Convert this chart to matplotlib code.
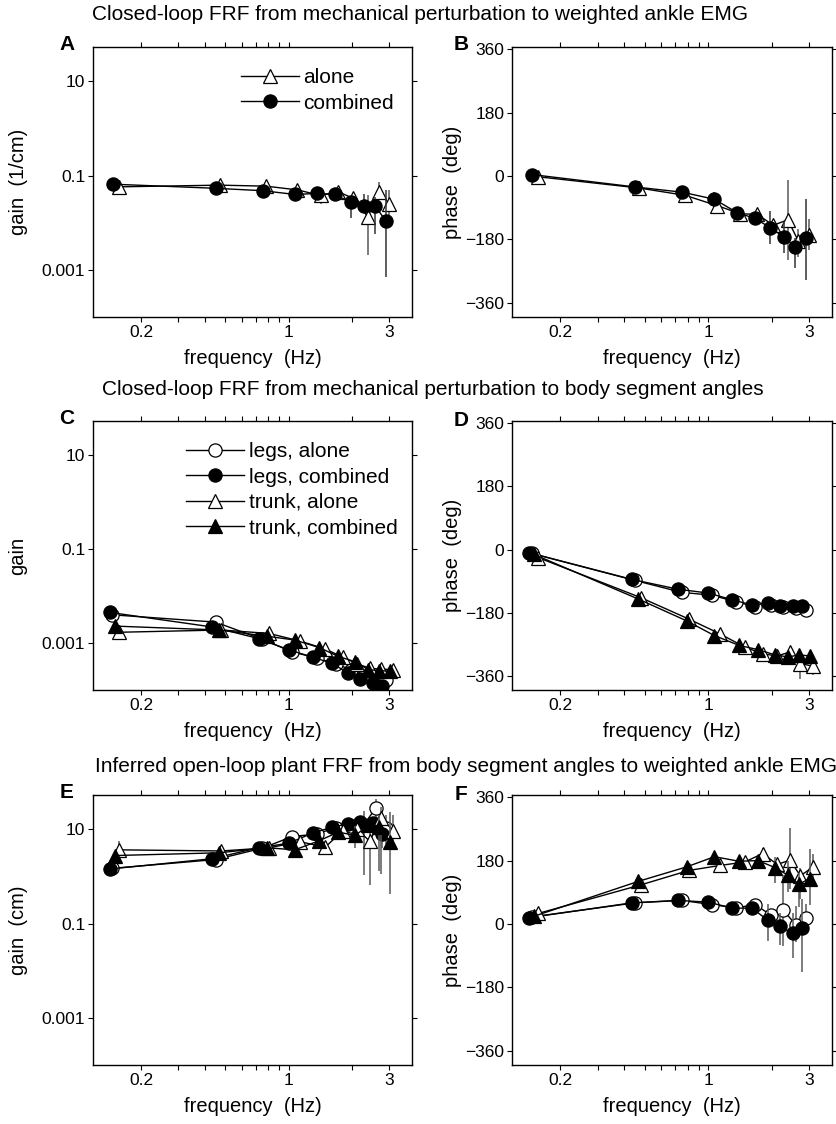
import numpy as np
import matplotlib
matplotlib.use('Agg')
import matplotlib.pyplot as plt
from matplotlib.ticker import FixedLocator, FixedFormatter, NullFormatter, NullLocator

plt.rcParams['font.family'] = ['Liberation Sans', 'DejaVu Sans']
nan = np.nan

# ---- row 1: perturbation -> EMG (A, B) ----
f_comb1 = [0.147, 0.45, 0.755, 1.07, 1.37, 1.66, 1.97, 2.28, 2.57, 2.89]
f_alone1 = [0.156, 0.47, 0.78, 1.10, 1.42, 1.71, 2.03, 2.38, 2.67, 3.01]

gainA_comb = [0.066, 0.054, 0.048, 0.040, 0.042, 0.040, 0.027, 0.023, 0.023, 0.011]
gainA_alone = [0.058, 0.063, 0.060, 0.050, 0.038, 0.046, 0.033, 0.0134, 0.046, 0.025]
gainA_comb_lo = [nan, nan, nan, nan, 0.033, 0.032, 0.0128, 0.0171, 0.0059, 0.00071]
gainA_comb_hi = [nan, nan, nan, nan, 0.050, 0.050, 0.0357, 0.040, 0.0357, 0.0497]
gainA_alone_lo = [nan, nan, nan, nan, 0.025, nan, nan, 0.0021, 0.030, 0.014]
gainA_alone_hi = [nan, nan, nan, nan, 0.050, nan, nan, 0.039, 0.075, 0.050]

phaseB_comb = [4, -31, -46, -66, -104, -120, -147, -173, -200, -176]
phaseB_alone = [-2, -34, -55, -84, -107, -109, -140, -124, -185, -166]
phaseB_comb_lo = [nan, nan, nan, -85, nan, nan, -194, -218, -262, -294]
phaseB_comb_hi = [nan, nan, nan, -45, nan, nan, -99, -128, -175, -66]
phaseB_alone_lo = [nan, nan, nan, -100, nan, nan, nan, -237, -230, -209]
phaseB_alone_hi = [nan, nan, nan, -70, nan, nan, nan, -11, -150, -123]

# ---- rows 2 and 3: legs / trunk ----
f_lc = [0.142, 0.435, 0.72, 1.0, 1.30, 1.61, 1.91, 2.18, 2.51, 2.77]
f_la = [0.146, 0.45, 0.75, 1.04, 1.36, 1.67, 1.98, 2.27, 2.60, 2.90]
f_tc = [0.150, 0.467, 0.79, 1.07, 1.40, 1.72, 2.07, 2.39, 2.69, 3.02]
f_ta = [0.157, 0.48, 0.81, 1.135, 1.49, 1.81, 2.12, 2.43, 2.73, 3.14]

gainC_la = [0.0040, 0.0028, 0.0012, 0.00065, 0.00048, 0.00036, 0.00027, 0.0002, 0.00017, 0.00016]
gainC_lc = [0.0045, 0.0022, 0.00125, 0.00072, 0.0005, 0.00037, 0.00023, 0.00017, 0.00014, 0.00012]
gainC_ta = [0.0017, 0.0019, 0.0016, 0.0011, 0.00075, 0.0005, 0.00036, 0.00029, 0.00028, 0.00027]
gainC_tc = [0.0023, 0.0019, 0.0014, 0.00116, 0.0008, 0.00052, 0.0004, 0.00027, 0.00026, 0.00025]

phaseD_la = [-11, -88, -122, -130, -149, -163, -158, -165, -166, -172]
phaseD_lc = [-9, -85, -113, -124, -143, -158, -153, -162, -160, -160]
phaseD_ta = [-23, -137, -198, -240, -278, -297, -303, -292, -325, -332]
phaseD_tc = [-14, -141, -203, -245, -273, -285, -300, -306, -300, -303]
phaseD_ta_lo = [nan, nan, nan, nan, nan, nan, -320, nan, -368, -358]
phaseD_ta_hi = [nan, nan, nan, nan, nan, nan, -290, nan, -300, -320]
phaseD_tc_lo = [nan, nan, nan, nan, -290, nan, nan, nan, nan, nan]
phaseD_tc_hi = [nan, nan, nan, nan, -260, nan, nan, nan, nan, nan]

gainE_la = [1.5, 2.3, 4.0, 7.1, 8.0, 11.0, 12.0, 12.5, 29, 11]
gainE_lc = [1.45, 2.4, 4.1, 5.1, 8.4, 11.2, 13.2, 14.3, 13.6, 8.1]
gainE_ta = [3.7, 3.5, 4.1, 5.5, 4.2, 9.5, 10.0, 5.6, 17.5, 9.5]
gainE_tc = [2.8, 3.2, 4.1, 3.7, 5.8, 8.8, 7.5, 12.2, 11.2, 5.4]
gainE_la_lo = [nan, nan, nan, nan, nan, nan, nan, 1.06, 15, 5]
gainE_la_hi = [nan, nan, nan, nan, nan, nan, nan, 25, 45, 20]
gainE_lc_lo = [nan, nan, nan, nan, nan, nan, nan, nan, nan, 4]
gainE_lc_hi = [nan, nan, nan, nan, nan, nan, nan, nan, nan, 15]
gainE_ta_lo = [2.5, nan, nan, nan, nan, nan, nan, 0.65, 1.15, 5]
gainE_ta_hi = [5.8, nan, nan, nan, nan, nan, nan, 12, 30, 20]
gainE_tc_lo = [nan, nan, nan, nan, nan, 6, 4, nan, 1.3, 0.43]
gainE_tc_hi = [nan, nan, nan, nan, nan, 12, 12, nan, 20, 23]

phaseF_la = [20, 60, 67, 55, 46, 55, 25, 39, -3, 18]
phaseF_lc = [18, 60, 67, 62, 45, 45, 11, -7, -26, -12]
phaseF_ta = [30, 111, 152, 166, 176, 200, 169, 181, 137, 162]
phaseF_tc = [22, 121, 162, 191, 178, 180, 160, 138, 113, 129]
phaseF_la_lo = [nan, nan, nan, nan, nan, nan, nan, -61, -50, 0]
phaseF_la_hi = [nan, nan, nan, nan, nan, nan, nan, 139, 50, 58]
phaseF_lc_lo = [nan, nan, nan, nan, nan, nan, -49, -60, -96, -137]
phaseF_lc_hi = [nan, nan, nan, nan, nan, nan, 58, 30, 30, 72]
phaseF_ta_lo = [nan, nan, nan, nan, nan, 178, nan, 100, 72, 120]
phaseF_ta_hi = [nan, nan, nan, nan, nan, 215, nan, 273, 160, 200]
phaseF_tc_lo = [nan, nan, nan, nan, nan, nan, 115, 90, 48, 53]
phaseF_tc_hi = [nan, nan, nan, nan, nan, nan, 190, 180, 146, 212]

freq_labels = ['0.2', '1', '3']
freq_ticks = [0.2, 1, 3]
freq_minor = [0.3, 0.4, 0.5, 0.6, 0.7, 0.8, 0.9, 2]
gain_ticks = [10, 0.1, 0.001]
gain_labels = ['10', '0.1', '0.001']
phase_ticks = [-360, -180, 0, 180, 360]

W, H = 837, 1124
fig = plt.figure(figsize=(W / 100, H / 100), dpi=100)


def make_ax(left, top, right, bottom):
    return fig.add_axes([left / W, 1 - bottom / H, (right - left) / W, (bottom - top) / H])


def style(ax, kind):
    ax.set_xscale('log')
    ax.set_xlim(0.118, 3.85)
    ax.xaxis.set_major_locator(FixedLocator(freq_ticks))
    ax.xaxis.set_major_formatter(FixedFormatter(freq_labels))
    ax.xaxis.set_minor_locator(FixedLocator(freq_minor))
    ax.xaxis.set_minor_formatter(NullFormatter())
    if kind == 'gain':
        ax.set_yscale('log')
        ax.set_ylim(1e-4, 54)
        ax.yaxis.set_major_locator(FixedLocator(gain_ticks))
        ax.yaxis.set_major_formatter(FixedFormatter(gain_labels))
        ax.yaxis.set_minor_locator(NullLocator())
    else:
        ax.set_ylim(-400, 366)
        ax.set_yticks(phase_ticks)
    ax.tick_params(which='both', direction='out', top=True, right=True,
                   length=3.5, width=0.8, labelsize=12.5, pad=2)
    for s in ax.spines.values():
        s.set_linewidth(1)
    ax.set_xlabel('frequency  (Hz)', fontsize=14.5)
    ax.xaxis.set_label_coords(0.5, -0.12)


def draw(ax, f, y, marker, fill, label, z, lo=None, hi=None, ecol='0.35'):
    f = np.asarray(f)
    if lo is not None:
        lo = np.asarray(lo, dtype=float)
        hi = np.asarray(hi, dtype=float)
        ok = np.isfinite(lo)
        ax.vlines(f[ok], lo[ok], hi[ok], color=ecol, lw=1.1, zorder=z)
    ax.plot(f, y, color='k', lw=1, marker=marker, ms=9.5, mfc=fill, mec='k',
            mew=0.9, label=label, zorder=z + 1)


def left_ylabel(ax, text):
    ax.set_ylabel(text, fontsize=14.5)
    ax.yaxis.set_label_coords(-0.205, 0.5)


def right_ylabel(ax, text):
    ax.set_ylabel(text, fontsize=14.5)
    ax.yaxis.set_label_coords(-0.155, 0.5)


L = (93, 412)
R = (512, 832)
rows = [(47, 317), (421, 690), (795, 1065)]
leg_kw = dict(loc='upper left', frameon=False, fontsize=15, handlelength=2.8,
              handletextpad=0.2, labelspacing=0.3)

# A
ax = make_ax(L[0], rows[0][0], L[1], rows[0][1])
style(ax, 'gain')
draw(ax, f_alone1, gainA_alone, '^', 'w', 'alone', 2, gainA_alone_lo, gainA_alone_hi)
draw(ax, f_comb1, gainA_comb, 'o', 'k', 'combined', 4, gainA_comb_lo, gainA_comb_hi, ecol='0.2')
left_ylabel(ax, 'gain  (1/cm)')
ax.legend(bbox_to_anchor=(0.405, 0.99), **leg_kw)

# B
ax = make_ax(R[0], rows[0][0], R[1], rows[0][1])
style(ax, 'phase')
draw(ax, f_alone1, phaseB_alone, '^', 'w', 'alone', 2, phaseB_alone_lo, phaseB_alone_hi)
draw(ax, f_comb1, phaseB_comb, 'o', 'k', 'combined', 4, phaseB_comb_lo, phaseB_comb_hi, ecol='0.2')
right_ylabel(ax, 'phase  (deg)')

# C
ax = make_ax(L[0], rows[1][0], L[1], rows[1][1])
style(ax, 'gain')
draw(ax, f_la, gainC_la, 'o', 'w', 'legs, alone', 2)
draw(ax, f_lc, gainC_lc, 'o', 'k', 'legs, combined', 4)
draw(ax, f_ta, gainC_ta, '^', 'w', 'trunk, alone', 6)
draw(ax, f_tc, gainC_tc, '^', 'k', 'trunk, combined', 8)
left_ylabel(ax, 'gain')
ax.legend(bbox_to_anchor=(0.233, 0.99), **leg_kw)

# D
ax = make_ax(R[0], rows[1][0], R[1], rows[1][1])
style(ax, 'phase')
draw(ax, f_la, phaseD_la, 'o', 'w', 'legs, alone', 2)
draw(ax, f_lc, phaseD_lc, 'o', 'k', 'legs, combined', 4)
draw(ax, f_ta, phaseD_ta, '^', 'w', 'trunk, alone', 6, phaseD_ta_lo, phaseD_ta_hi)
draw(ax, f_tc, phaseD_tc, '^', 'k', 'trunk, combined', 8, phaseD_tc_lo, phaseD_tc_hi)
right_ylabel(ax, 'phase  (deg)')

# E
ax = make_ax(L[0], rows[2][0], L[1], rows[2][1])
style(ax, 'gain')
draw(ax, f_la, gainE_la, 'o', 'w', 'legs, alone', 2, gainE_la_lo, gainE_la_hi)
draw(ax, f_lc, gainE_lc, 'o', 'k', 'legs, combined', 4, gainE_lc_lo, gainE_lc_hi)
draw(ax, f_ta, gainE_ta, '^', 'w', 'trunk, alone', 6, gainE_ta_lo, gainE_ta_hi)
draw(ax, f_tc, gainE_tc, '^', 'k', 'trunk, combined', 8, gainE_tc_lo, gainE_tc_hi)
left_ylabel(ax, 'gain  (cm)')

# F
ax = make_ax(R[0], rows[2][0], R[1], rows[2][1])
style(ax, 'phase')
draw(ax, f_la, phaseF_la, 'o', 'w', 'legs, alone', 2, phaseF_la_lo, phaseF_la_hi)
draw(ax, f_lc, phaseF_lc, 'o', 'k', 'legs, combined', 4, phaseF_lc_lo, phaseF_lc_hi)
draw(ax, f_ta, phaseF_ta, '^', 'w', 'trunk, alone', 6, phaseF_ta_lo, phaseF_ta_hi)
draw(ax, f_tc, phaseF_tc, '^', 'k', 'trunk, combined', 8, phaseF_tc_lo, phaseF_tc_hi)
right_ylabel(ax, 'phase  (deg)')

# row titles and panel letters
titles = ['Closed-loop FRF from mechanical perturbation to weighted ankle EMG',
          'Closed-loop FRF from mechanical perturbation to body segment angles',
          'Inferred open-loop plant FRF from body segment angles to weighted ankle EMG']
title_pos = [(420, 15), (433, 390), (466, 766)]
for t, (x, y) in zip(titles, title_pos):
    fig.text(x / W, 1 - y / H, t, ha='center', va='center', fontsize=15)

letters = ['A', 'B', 'C', 'D', 'E', 'F']
letter_pos = [(67, 45), (461, 45), (67, 418), (461, 420), (67, 793), (461, 795)]
for t, (x, y) in zip(letters, letter_pos):
    fig.text(x / W, 1 - y / H, t, ha='center', va='center', fontsize=15, fontweight='bold')

fig.savefig('out.png', dpi=100)
